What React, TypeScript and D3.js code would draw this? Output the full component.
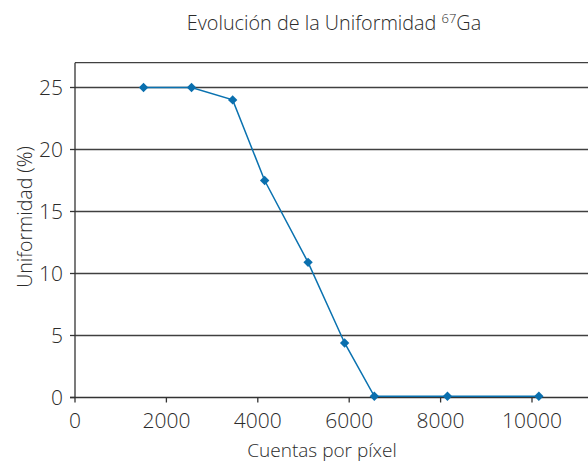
import React from "react";
import * as d3 from "d3";

const counts = [1500, 2550, 3450, 4150, 5100, 5900, 6550, 8150, 10150];
const uniformity = [25, 25, 24, 17.5, 10.9, 4.4, 0.1, 0.1, 0.1];
const xTicks = [0, 2000, 4000, 6000, 8000, 10000];
const yTicks = [0, 5, 10, 15, 20, 25];

const W = 588;
const H = 462;

export default function App() {
  const x = d3.scaleLinear().domain([0, 10000]).range([75, 532]);
  const y = d3.scaleLinear().domain([0, 27]).range([397.5, 62.7]);
  const pts = counts.map((c, i) => [x(c), y(uniformity[i])] as [number, number]);
  const line = d3.line()(pts) || "";
  const font = "'Open Sans', 'DejaVu Sans', sans-serif";
  const diamond = d3.symbol().type(d3.symbolDiamond2).size(56)() || "";
  return (
    <svg width={W} height={H} style={{ position: "absolute", left: 0, top: 0, background: "#fff" }} fontFamily={font} fontWeight={300}>
      <text x={334} y={30} textAnchor="middle" fontSize={19.8} fill="#2b2b2b">
        Evolución de la Uniformidad <tspan fontSize={13} dy={-7.5}>67</tspan><tspan dy={7.5}>Ga</tspan>
      </text>
      <line x1={75} x2={W} y1={y(27)} y2={y(27)} stroke="#404040" strokeWidth={1.3} />
      {yTicks.filter((t) => t > 0).map((t) => (
        <line key={t} x1={75} x2={W} y1={y(t)} y2={y(t)} stroke="#404040" strokeWidth={1.3} />
      ))}
      <line x1={75} x2={75} y1={y(27)} y2={y(0)} stroke="#333" strokeWidth={1.3} />
      <line x1={70} x2={W} y1={y(0)} y2={y(0)} stroke="#333" strokeWidth={1.5} />
      {yTicks.map((t) => (
        <g key={t}>
          <line x1={70} x2={75} y1={y(t)} y2={y(t)} stroke="#333" strokeWidth={1.3} />
          <text x={63} y={y(t)} dy="0.36em" textAnchor="end" fontSize={21} fill="#2b2b2b">{t}</text>
        </g>
      ))}
      {xTicks.map((t) => (
        <g key={t}>
          <line x1={x(t)} x2={x(t)} y1={y(0)} y2={y(0) + 5} stroke="#333" strokeWidth={1.3} />
          <text x={x(t)} y={427.5} textAnchor="middle" fontSize={21} fill="#2b2b2b">{t}</text>
        </g>
      ))}
      <text x={322} y={457} textAnchor="middle" fontSize={19} fill="#2b2b2b">Cuentas por píxel</text>
      <text transform={`translate(32,217) rotate(-90)`} textAnchor="middle" fontSize={19.5} fill="#2b2b2b">Uniformidad (%)</text>
      <path d={line} fill="none" stroke="#0a72b0" strokeWidth={1.5} />
      {pts.map((p, i) => (
        <path key={i} d={diamond} transform={`translate(${p[0]},${p[1]})`} fill="#0a6fae" />
      ))}
    </svg>
  );
}
